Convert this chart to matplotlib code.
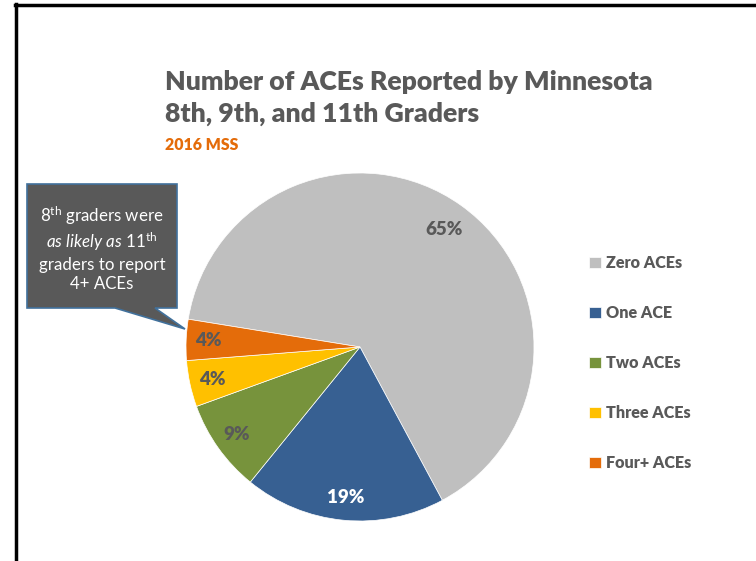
import numpy as np
import matplotlib
matplotlib.use("Agg")
import matplotlib.pyplot as plt
from matplotlib.patches import Polygon
from matplotlib.lines import Line2D

# data
categories = ["Zero ACEs", "One ACE", "Two ACEs", "Three ACEs", "Four+ ACEs"]
shares = [64.6, 18.7, 8.6, 4.3, 3.8]
colors = ["#BFBFBF", "#376092", "#77933C", "#FFC000", "#E46C0A"]
label_colors = ["#595959", "white", "#595959", "#595959", "#595959"]

title_lines = "Number of ACEs Reported by Minnesota\n8th, 9th, and 11th Graders"
subtitle = "2016 MSS"
callout = ("8$^{\\rm th}$ graders were\n"
           "$\\it{as\\ likely\\ as}$ 11$^{\\rm th}$\n"
           "graders to report\n"
           "4+ ACEs")

plt.rcParams['font.family'] = ['Lato', 'DejaVu Sans']
plt.rcParams['mathtext.fontset'] = 'custom'
plt.rcParams['mathtext.rm'] = 'Lato'
plt.rcParams['mathtext.it'] = 'Lato:italic'

W, H = 756, 561
fig = plt.figure(figsize=(W / 100, H / 100), dpi=100)

def fx(x):
    return x / W

def fy(y):
    return 1 - y / H

# pie centred at (360, 347) px, radius ~174 px
cx, cy, r = 360, 347, 174
ax = fig.add_axes([fx(cx - r), fy(cy + r), 2 * r / W, 2 * r / H])
wedges, _, autotexts = ax.pie(shares, colors=colors, startangle=170.8, counterclock=False,
                              autopct='%.0f%%', pctdistance=0.87,
                              wedgeprops=dict(edgecolor='white', linewidth=0.5))
for t, c in zip(autotexts, label_colors):
    t.set_color(c)
    t.set_fontweight('heavy')
    t.set_fontsize(13.5)
# biggest slice label sits a little further in
x0, y0 = autotexts[0].get_position()
autotexts[0].set_position((x0 * 0.83 / 0.87, y0 * 0.83 / 0.87))
ax.set_xlim(-1, 1)
ax.set_ylim(-1, 1)
ax.set_aspect('equal')
ax.axis('off')

# titles
fig.text(fx(165), fy(98), title_lines, fontsize=19.2, fontweight='heavy', color='#595959',
         ha='left', va='center', linespacing=1.4)
fig.text(fx(165), fy(145), subtitle, fontsize=11.4, fontweight='heavy', color='#E46C0A',
         ha='left', va='center')

# legend
leg = fig.legend(wedges, categories, loc='upper left', bbox_to_anchor=(fx(583), fy(249)),
                 frameon=False, fontsize=11.6, labelspacing=2.1, handlelength=0.7,
                 handleheight=0.7, handletextpad=0.35, borderaxespad=0)
for t in leg.get_texts():
    t.set_color('#595959')
    t.set_fontweight('heavy')

# callout box with pointer
pts = [(27, 184), (177, 184), (177, 308), (155, 308), (185, 329), (115, 308), (27, 308)]
fig.patches.append(Polygon([(fx(x), fy(y)) for x, y in pts], closed=True,
                           transform=fig.transFigure, facecolor='#595959',
                           edgecolor='#41719C', linewidth=1.2))
fig.text(fx(102), fy(248), callout, fontsize=12.2, color='white', ha='center', va='center',
         linespacing=1.25)

# slide border (top and left)
fig.add_artist(Line2D([fx(15), 1], [fy(5), fy(5)], color='black', linewidth=2.5))
fig.add_artist(Line2D([fx(16), fx(16)], [fy(4), 0], color='black', linewidth=2.5))

fig.savefig("out.png", dpi=100)
